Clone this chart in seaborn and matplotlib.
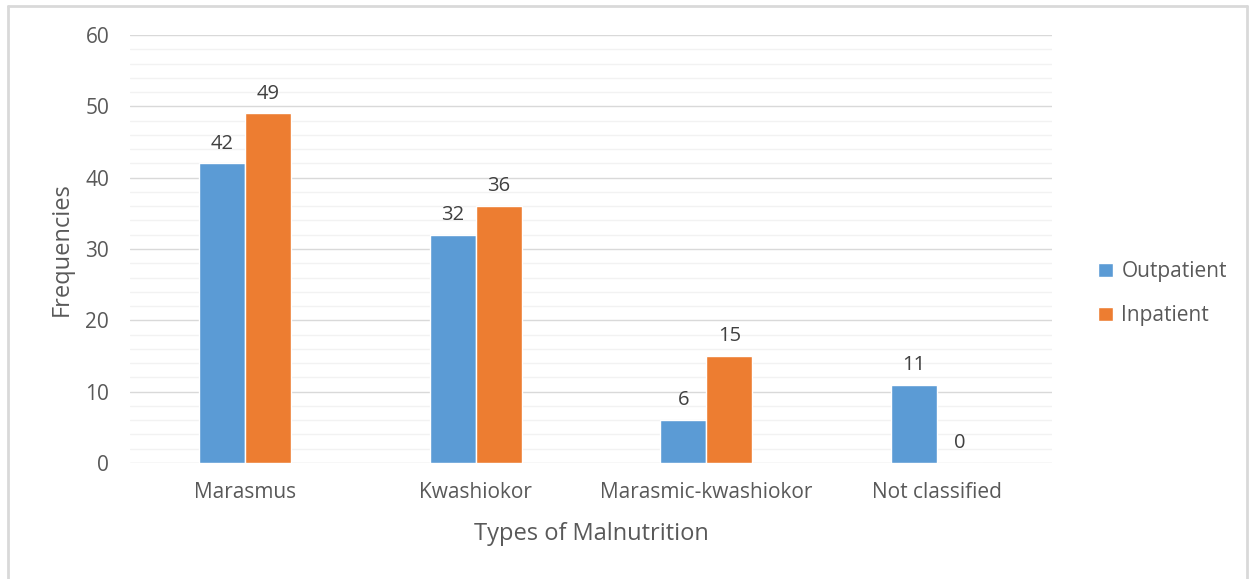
import pandas as pd
import matplotlib.pyplot as plt
import seaborn as sns
from matplotlib.ticker import MultipleLocator
from matplotlib.lines import Line2D

# data
categories = ["Marasmus", "Kwashiokor", "Marasmic-kwashiokor", "Not classified"]
outpatient = [42, 32, 6, 11]
inpatient = [49, 36, 15, 0]
groups = ["Outpatient", "Inpatient"]

df = pd.DataFrame({
    "Type": categories * 2,
    "Group": [groups[0]] * 4 + [groups[1]] * 4,
    "Frequency": outpatient + inpatient,
})

sns.set_style("white")
plt.rcParams["font.family"] = ["Open Sans", "DejaVu Sans"]
grey = "#595959"

fig = plt.figure(figsize=(12.51, 5.79), dpi=100)
ax = fig.add_axes([130 / 1251, 1 - 463 / 579, 922 / 1251, 428 / 579])

sns.barplot(data=df, x="Type", y="Frequency", hue="Group", order=categories,
            hue_order=groups, palette=["#5B9BD5", "#ED7D31"], width=0.4,
            saturation=1, ax=ax, zorder=3)

for c in ax.containers:
    ax.bar_label(c, padding=7, fontsize=14.5, color="#404040")

ax.set_xlim(-0.5, 3.5)
ax.set_ylim(0, 60)
ax.yaxis.set_major_locator(MultipleLocator(10))
ax.yaxis.set_minor_locator(MultipleLocator(2))
ax.grid(axis="y", which="major", color="#D9D9D9", lw=1, zorder=0)
ax.grid(axis="y", which="minor", color="#F2F2F2", lw=1, zorder=0)
ax.set_axisbelow(True)
for s in ax.spines.values():
    s.set_visible(False)
ax.tick_params(axis="both", which="both", length=0, labelsize=15, colors=grey)
ax.tick_params(axis="y", pad=15)
ax.tick_params(axis="x", pad=14)
ax.set_xlabel("Types of Malnutrition", fontsize=17, color=grey, labelpad=13)
ax.set_ylabel("Frequencies", fontsize=17, color=grey, labelpad=8)

ax.legend(loc="center left", bbox_to_anchor=(1.03, 0.395), frameon=False,
          fontsize=15, labelcolor=grey, handlelength=0.7, handleheight=0.7,
          handletextpad=0.4, labelspacing=1.1)

# light frame around the chart, as in the source image
fig.add_artist(Line2D([8 / 1251, 8 / 1251], [0, 1 - 6 / 579], color="#D9D9D9", lw=2))
fig.add_artist(Line2D([8 / 1251, 1247 / 1251], [1 - 6 / 579, 1 - 6 / 579], color="#D9D9D9", lw=2))
fig.add_artist(Line2D([1247 / 1251, 1247 / 1251], [0, 1 - 6 / 579], color="#D9D9D9", lw=2))

fig.savefig("out.png", dpi=100)
